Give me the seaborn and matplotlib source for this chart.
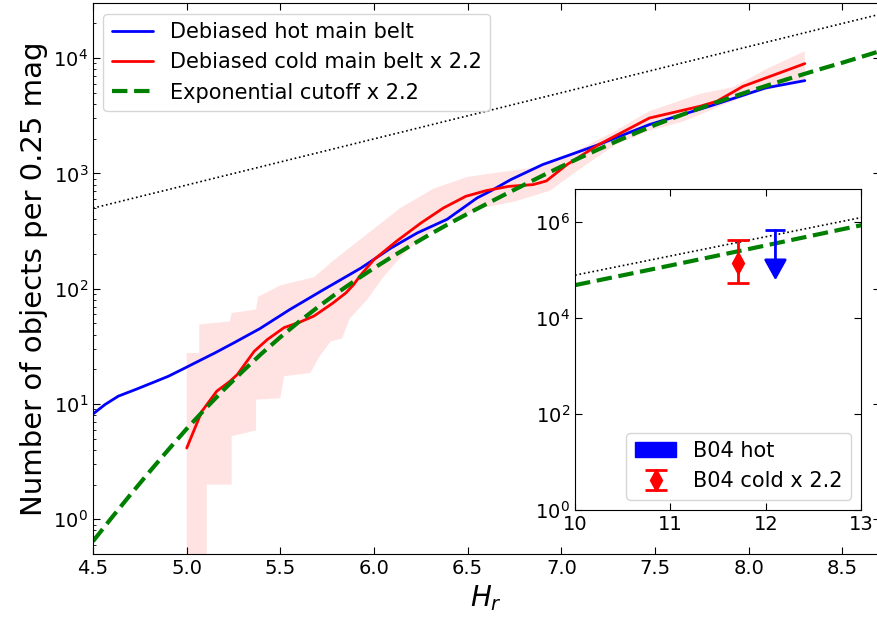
import numpy as np
import seaborn as sns
import matplotlib
matplotlib.use("Agg")
import matplotlib.pyplot as plt
from matplotlib.patches import Patch

# debiased hot main belt
hot_h = [4.5, 4.564, 4.635, 4.724, 4.813, 4.902, 4.99, 5.08, 5.15, 5.25, 5.39, 5.55,
         5.73, 5.93, 6.09, 6.23, 6.39, 6.55, 6.62, 6.73, 6.9, 7.2, 7.47, 7.79,
         8.09, 8.3]
hot_n = [8.2, 9.9, 11.7, 13.3, 15.2, 17.4, 20.5, 24.3, 27.7, 33.8, 45, 65.9,
         98, 151, 225, 304, 400, 612, 700, 883, 1192, 1778, 2650, 3819,
         5508, 6380]

# debiased cold main belt x 2.2
cold_h = [5.0, 5.08, 5.16, 5.23, 5.27, 5.36, 5.43, 5.52, 5.6, 5.68, 5.78, 5.85,
          5.89, 5.93, 6.0, 6.12, 6.25, 6.37, 6.49, 6.6, 6.72, 6.85, 6.92, 7.03,
          7.2, 7.47, 7.74, 7.83, 7.97, 8.3]
cold_n = [4.15, 8.6, 12.9, 15.7, 18, 28.6, 36.2, 46, 51, 58, 75, 92,
          108, 132, 179, 258, 371, 501, 633, 710, 772, 800, 860, 1192,
          1778, 3021, 3819, 4220, 5690, 8960]

# uncertainty band of the cold belt
band_hi_h = [5.0, 5.067, 5.067, 5.23, 5.24, 5.37, 5.38, 5.5, 5.68, 5.78, 5.96, 6.14,
             6.32, 6.5, 6.67, 6.9, 7.11, 7.29, 7.47, 7.74, 7.92, 8.1, 8.3]
band_hi_n = [27.7, 27.7, 49, 52, 61.6, 66, 85, 107, 126, 174, 295, 501,
             741, 933, 1023, 1148, 1660, 2344, 3467, 4898, 5623, 8128, 11480]
band_lo_h = [5.0, 5.107, 5.107, 5.24, 5.24, 5.37, 5.37, 5.5, 5.52, 5.66, 5.71, 5.77,
             5.83, 5.87, 5.96, 6.05, 6.14, 6.23, 6.33, 6.44, 6.58, 6.76, 6.94,
             7.11, 7.29, 7.47, 7.65, 7.83, 8.0, 8.18, 8.3]
band_lo_n = [0.1, 0.1, 2.0, 2.0, 5.25, 5.9, 10.9, 11.2, 17.4, 18.6, 26, 35,
             37, 55, 79, 126, 186, 257, 339, 417, 501, 575, 708,
             1122, 1778, 2344, 2818, 3715, 4786, 5754, 6607]

# exponential cutoff x 2.2
cut_h = [4.5, 4.6, 4.7, 4.8, 4.9, 5.0, 5.1, 5.2, 5.3, 5.4, 5.5, 5.6, 5.7, 5.8, 5.9,
         6.0, 6.1, 6.2, 6.3, 6.4, 6.5, 6.6, 6.7, 6.8, 6.9, 7.0, 7.1, 7.2, 7.3, 7.4,
         7.5, 7.6, 7.7, 7.8, 7.9, 8.0, 8.1, 8.2, 8.3, 8.4, 8.5, 8.6, 8.7]
cut_n = [0.646, 1.035, 1.64, 2.57, 3.98, 6.10, 9.12, 13.4, 19.3, 27.4, 38.0, 51.8,
         69.2, 91.2, 118, 151, 191, 239, 297, 366, 447, 543, 658, 794, 957, 1148,
         1368, 1622, 1914, 2249, 2630, 3034, 3483, 3981, 4529, 5129, 5794, 6516,
         7311, 8185, 9120, 10230, 11480]

# power law reference (dotted)
pow_h = [4.5, 8.7]
pow_n = [500, 24000]

# inset: faint end
in_cut_h = [10, 11, 12, 13]
in_cut_n = [4.9e4, 1.26e5, 3.3e5, 8.7e5]
in_pow_h = [10, 13]
in_pow_n = [7.9e4, 1.26e6]

b04_cold_h = 11.71
b04_cold_n = 1.45e5
b04_cold_lo = 5.4e4
b04_cold_hi = 4.35e5

b04_hot_h = 12.1
b04_hot_limit = 6.8e5
b04_hot_tip = 6.2e4

sns.set_style("ticks", rc={
    "axes.edgecolor": "black", "text.color": "black", "axes.labelcolor": "black",
    "xtick.color": "black", "ytick.color": "black",
    "xtick.direction": "in", "ytick.direction": "in",
})
plt.rcParams["font.family"] = ["DejaVu Sans"]

fig = plt.figure(figsize=(8.78, 6.19), dpi=100)
ax = fig.add_axes([0.106, 0.105, 0.896, 0.890])
ax.set_yscale("log")

ax.fill(np.r_[band_hi_h, band_lo_h[::-1]], np.r_[band_hi_n, band_lo_n[::-1]],
        color="red", alpha=0.11, lw=0, zorder=1)
ax.plot(pow_h, pow_n, ls=":", color="black", lw=1.2)
sns.lineplot(x=hot_h, y=hot_n, ax=ax, color="blue", lw=2,
             label="Debiased hot main belt", sort=False)
sns.lineplot(x=cold_h, y=cold_n, ax=ax, color="red", lw=2,
             label="Debiased cold main belt x 2.2", sort=False)
sns.lineplot(x=cut_h, y=cut_n, ax=ax, color="green", lw=3, ls="--",
             label="Exponential cutoff x 2.2", sort=False)

ax.set_xlim(4.5, 8.7)
ax.set_ylim(0.5, 3e4)
ax.set_xticks(np.arange(4.5, 8.75, 0.5))
ax.set_xticklabels([f"{v:.1f}" for v in np.arange(4.5, 8.75, 0.5)])
ax.tick_params(which="both", direction="in", top=True, right=True, labelsize=14)
ax.tick_params(which="major", length=5)
ax.tick_params(which="minor", length=2.5)
ax.set_xlabel(r"$H_r$", fontsize=20)
ax.set_ylabel("Number of objects per 0.25 mag", fontsize=21)
ax.legend(loc="upper left", fontsize=15)

# inset
ins = fig.add_axes([0.655, 0.176, 0.326, 0.519])
ins.set_yscale("log")
ins.plot(in_pow_h, in_pow_n, ls=":", color="black", lw=1.2)
sns.lineplot(x=in_cut_h, y=in_cut_n, ax=ins, color="green", lw=3, ls="--",
             legend=False)
cold_bar = ins.errorbar([b04_cold_h], [b04_cold_n],
                        yerr=[[b04_cold_n - b04_cold_lo], [b04_cold_hi - b04_cold_n]],
                        fmt="d", color="red", ms=11, capsize=8, elinewidth=2,
                        capthick=2, label="B04 cold x 2.2")
ins.annotate("", xy=(b04_hot_h, b04_hot_tip), xytext=(b04_hot_h, b04_hot_limit),
             arrowprops=dict(arrowstyle="-|>,head_length=0.9,head_width=0.5",
                             color="blue", lw=2, shrinkA=0, shrinkB=0,
                             mutation_scale=14))
ins.plot([b04_hot_h], [b04_hot_limit], marker="_", ms=15, mew=2, color="blue")
ins.set_xlim(10, 13)
ins.set_ylim(1, 5e6)
ins.set_xticks([10, 11, 12, 13])
ins.set_yticks([1, 1e2, 1e4, 1e6])
ins.minorticks_off()
ins.tick_params(which="both", direction="in", top=True, right=True, labelsize=14,
                length=5)
ins.legend(handles=[Patch(facecolor="blue", edgecolor="blue", label="B04 hot"), cold_bar],
           loc="lower right", fontsize=15)

fig.savefig("out.png", dpi=100)
